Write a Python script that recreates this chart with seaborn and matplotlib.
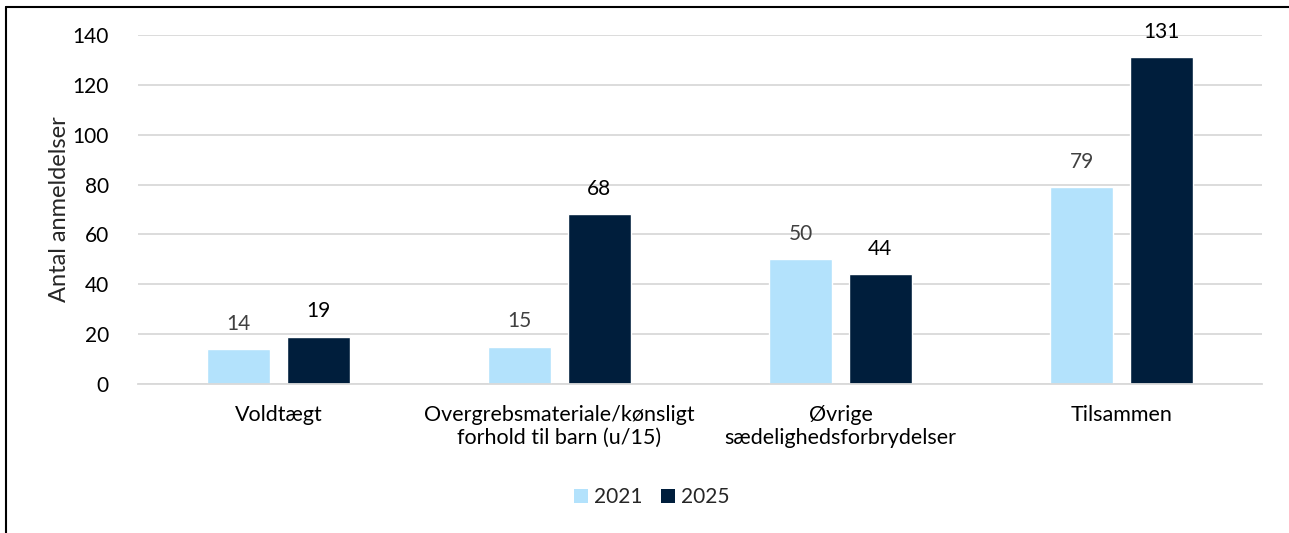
import matplotlib
matplotlib.use("Agg")
import matplotlib.pyplot as plt
import seaborn as sns
import pandas as pd
from matplotlib.lines import Line2D
from matplotlib.patches import Patch

categories = ["Voldtægt",
              "Overgrebsmateriale/kønsligt\nforhold til barn (u/15)",
              "Øvrige\nsædelighedsforbrydelser",
              "Tilsammen"]
years = ["2021", "2025"]
values_2021 = [14, 15, 50, 79]
values_2025 = [19, 68, 44, 131]
yticks = [0, 20, 40, 60, 80, 100, 120, 140]
ylabel = "Antal anmeldelser"

colors = {"2021": "#B3E2FC", "2025": "#001E3C"}
label_colors = {"2021": "#404040", "2025": "#000000"}

df = pd.DataFrame({
    "kategori": categories * 2,
    "år": [years[0]] * len(categories) + [years[1]] * len(categories),
    "antal": values_2021 + values_2025,
})

sns.set_theme(style="white")
plt.rcParams['font.family'] = ['Lato', 'DejaVu Sans']

W, H = 1289, 533
fig = plt.figure(figsize=(W / 100, H / 100), dpi=100)
ax = fig.add_axes([138 / W, (H - 384) / H, (1262 - 138) / W, (384 - 35) / H])

sns.barplot(data=df, x="kategori", y="antal", hue="år", palette=colors,
            width=0.566, gap=0.208, saturation=1, legend=False, ax=ax)

for cont, yr in zip(ax.containers, years):
    ax.bar_label(cont, padding=11, color=label_colors[yr], fontsize=15)

ax.set_ylim(0, 140)
ax.set_yticks(yticks)
ax.set_xlabel("")
ax.set_ylabel(ylabel, fontsize=17, labelpad=2)
ax.yaxis.grid(True, color="#D9D9D9", lw=1.3)
ax.set_axisbelow(True)
for s in ["top", "right", "left"]:
    ax.spines[s].set_visible(False)
ax.spines["bottom"].set_color("#D9D9D9")
ax.spines["bottom"].set_linewidth(1.3)
ax.tick_params(axis="both", length=0, colors="#000000")
ax.tick_params(axis="y", pad=21, labelsize=15)
ax.tick_params(axis="x", pad=15, labelsize=15.5)

handles = [Patch(facecolor=colors[y], edgecolor="none", label=y) for y in years]
fig.legend(handles=handles, loc="center", bbox_to_anchor=(652 / W, 1 - 497 / H),
           ncol=2, frameon=False, fontsize=15, handlelength=0.67,
           handleheight=0.67, handletextpad=0.3, columnspacing=0.87)

fig.add_artist(Line2D([5.5 / W, 5.5 / W], [0, 1 - 6.5 / H], color="black", lw=1.5,
                      transform=fig.transFigure))
fig.add_artist(Line2D([5.5 / W, 1], [1 - 6.5 / H, 1 - 6.5 / H], color="black", lw=1.5,
                      transform=fig.transFigure))

fig.savefig("out.png", dpi=100)
